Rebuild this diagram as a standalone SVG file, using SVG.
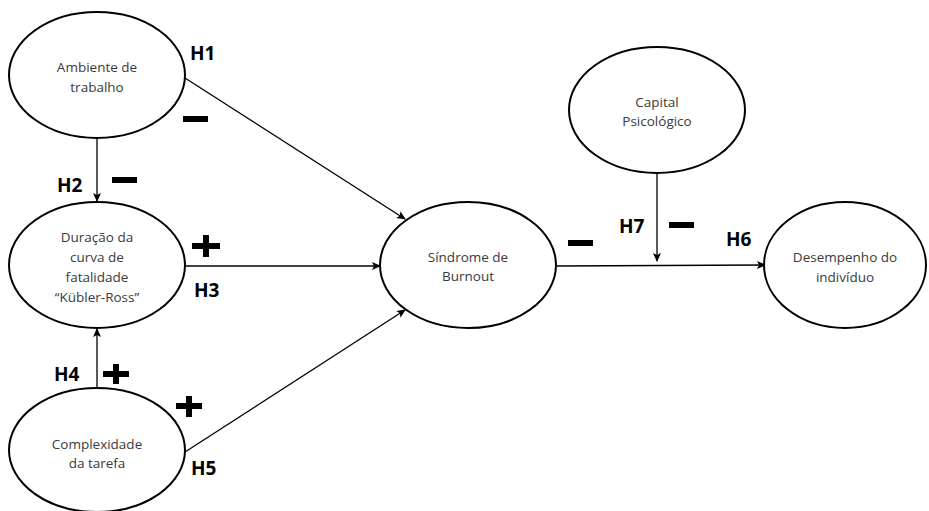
<svg xmlns="http://www.w3.org/2000/svg" width="929" height="511" viewBox="0 0 929 511">
<defs>
<marker id="ah" markerWidth="9" markerHeight="8" refX="8" refY="4" orient="auto" markerUnits="userSpaceOnUse">
<path d="M0,0 L9,4 L0,8 L2,4 Z" fill="#000"/>
</marker>
<style>
.node ellipse{fill:#fff;stroke:#000;stroke-width:2}
.nt{font-family:"Open Sans","Liberation Sans",sans-serif;font-size:13.5px;fill:#3a3a3a;text-anchor:middle}
.lbl{font-family:"Open Sans","Liberation Sans",sans-serif;font-size:19px;font-weight:bold;fill:#000}
.edge{stroke:#000;stroke-width:1.3;fill:none;marker-end:url(#ah)}
.sign{fill:#000}
</style>
</defs>
<rect width="929" height="511" fill="#fff"/>
<g id="connectors">
<path class="edge" d="M185,78 L405,219"/>
<path class="edge" d="M97,138 L97,201"/>
<path class="edge" d="M185,266 L380,266"/>
<path class="edge" d="M97,389 L97,329"/>
<path class="edge" d="M185,452 L405,310"/>
<path class="edge" d="M557,266 L765,265"/>
<path class="edge" d="M657,173 L657,261"/>
</g>
<g id="ambiente" class="node">
<ellipse cx="97" cy="75" rx="88" ry="63"/>
<text class="nt" x="97" y="72">Ambiente de</text>
<text class="nt" x="97" y="92">trabalho</text>
</g>
<g id="duracao" class="node">
<ellipse cx="97" cy="265" rx="88" ry="63"/>
<text class="nt" x="97" y="242">Duração da</text>
<text class="nt" x="97" y="262">curva de</text>
<text class="nt" x="97" y="282">fatalidade</text>
<text class="nt" x="97" y="302">“Kübler-Ross”</text>
</g>
<g id="complexidade" class="node">
<ellipse cx="97" cy="450" rx="88" ry="62"/>
<text class="nt" x="97" y="449">Complexidade</text>
<text class="nt" x="97" y="468">da tarefa</text>
</g>
<g id="sindrome" class="node">
<ellipse cx="468" cy="265" rx="88" ry="63"/>
<text class="nt" x="468" y="262">Síndrome de</text>
<text class="nt" x="468" y="281">Burnout</text>
</g>
<g id="capital" class="node">
<ellipse cx="657" cy="110" rx="88" ry="63"/>
<text class="nt" x="657" y="107">Capital</text>
<text class="nt" x="657" y="126">Psicológico</text>
</g>
<g id="desempenho" class="node">
<ellipse cx="845" cy="265" rx="81" ry="63"/>
<text class="nt" x="845" y="262">Desempenho do</text>
<text class="nt" x="845" y="282">indivíduo</text>
</g>
<g id="labels">
<text class="lbl" x="190" y="60">H1</text>
<text class="lbl" x="57" y="192">H2</text>
<text class="lbl" x="194" y="297">H3</text>
<text class="lbl" x="54" y="381">H4</text>
<text class="lbl" x="191" y="475">H5</text>
<text class="lbl" x="726" y="246">H6</text>
<text class="lbl" x="619" y="233">H7</text>
</g>
<g id="signs" class="sign">
<rect x="183" y="116" width="25" height="6"/>
<rect x="112" y="177" width="25" height="6"/>
<rect x="568" y="240" width="25" height="6"/>
<rect x="669" y="222" width="25" height="6"/>
<path d="M192,243 h11 v-8 h6 v8 h11 v6 h-11 v8 h-6 v-8 h-11 z"/>
<path d="M103,371 h10 v-7 h6 v7 h10 v6 h-10 v7 h-6 v-7 h-10 z"/>
<path d="M176,403 h10 v-7 h6 v7 h10 v6 h-10 v8 h-6 v-8 h-10 z"/>
</g>
</svg>
